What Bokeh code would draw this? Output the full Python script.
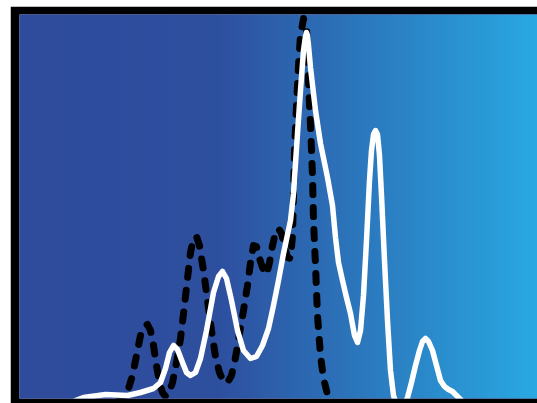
import numpy as np
from bokeh.plotting import figure
from bokeh.models import Range1d, Spacer
from bokeh.layouts import column, row
from bokeh.embed import file_html
from bokeh.resources import INLINE

# Solid white density curve (x, y)
white_x = [56, 64, 86, 108, 121, 134, 141, 146, 150, 154, 158, 163, 167, 171, 176, 181, 187, 194, 199, 203,
           207, 212, 218, 224, 231, 237, 243, 249, 254, 259, 264, 271, 274, 278, 281, 284, 286, 287, 288, 289,
           291, 296, 301, 308, 313, 316, 319, 323, 327, 331, 335, 338, 341, 344, 347, 350, 352, 354, 356, 358,
           360, 362, 365, 368, 371, 374, 377, 385, 388, 392, 396, 400, 403, 406, 409, 413, 417, 421, 425, 429,
           433, 437, 441, 446]
white_y = [-2, 1, 4, 3, 6, 10, 16, 30, 46, 53, 49, 36, 26, 23, 26, 40, 68, 106, 122, 127,
           120, 98, 68, 48, 40, 42, 53, 70, 93, 118, 145, 178, 205, 265, 308, 348, 362, 366, 363, 353,
           331, 288, 255, 221, 193, 161, 136, 118, 101, 85, 63, 56, 68, 103, 158, 218, 248, 264, 268, 264,
           243, 203, 138, 78, 28, 3, -6, -6, 1, 16, 33, 48, 57, 60, 57, 48, 33, 18, 12, 9,
           7, 3, -1, -6]

# Dashed black density curve
black_x = [96, 105, 109, 113, 117, 121, 125, 128, 131, 134, 137, 140, 143, 146, 149, 153, 157, 161, 165, 168,
           171, 174, 177, 180, 184, 188, 192, 196, 200, 204, 208, 212, 216, 220, 224, 228, 231, 234, 237, 240,
           244, 247, 250, 253, 256, 259, 262, 265, 268, 271, 273, 274, 275, 277, 279, 281, 284, 287, 288, 289,
           291, 293, 294, 296, 298, 301, 304, 308, 312]
black_y = [-4, 0, 10, 23, 43, 63, 72, 74, 68, 53, 33, 16, 6, 2, 4, 16, 36, 60, 93, 120,
           146, 160, 162, 153, 128, 98, 68, 42, 26, 17, 16, 23, 41, 65, 88, 113, 136, 153, 152, 140,
           128, 124, 136, 153, 166, 170, 165, 153, 141, 140, 163, 203, 248, 293, 333, 363, 380, 370, 353, 315,
           273, 223, 178, 133, 83, 43, 20, 4, -4]

# background gradient colour stops (fraction of width, rgb)
grad_stops = [0.0, 0.38, 1.0]
grad_r = [46, 46, 41]
grad_g = [75, 79, 169]
grad_b = [156, 159, 226]

p = figure(width=527, height=397, output_backend="svg", toolbar_location=None,
           x_range=Range1d(0, 518), y_range=Range1d(0, 384),
           min_border_left=9, min_border_right=0, min_border_top=8, min_border_bottom=5,
           border_fill_color="black", background_fill_color="#2E4B9C",
           outline_line_color=None)
p.axis.visible = False
p.grid.visible = False

n = 518
frac = np.linspace(0, 1, n)
r = np.interp(frac, grad_stops, grad_r).astype(np.uint32)
g = np.interp(frac, grad_stops, grad_g).astype(np.uint32)
b = np.interp(frac, grad_stops, grad_b).astype(np.uint32)
row_px = (255 << 24) | (b << 16) | (g << 8) | r
img = np.tile(row_px, (2, 1)).astype(np.uint32)
p.image_rgba(image=[img], x=0, y=0, dw=518, dh=384)

p.line(black_x, black_y, line_color="black", line_width=7, line_dash="9 13",
       line_cap="round", line_join="round")
p.line(white_x, white_y, line_color="white", line_width=5.5, line_join="round", line_cap="round")

layout = column(Spacer(height=6, width=537), row(Spacer(width=10, height=397), p))

open("out.html", "w").write(file_html(layout, INLINE))
